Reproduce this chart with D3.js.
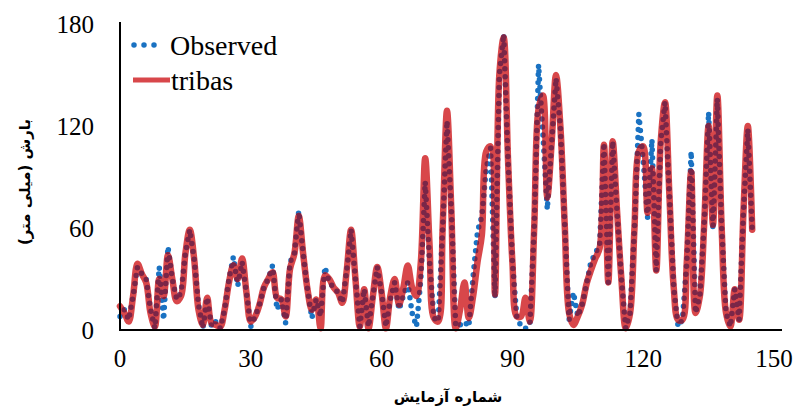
<!DOCTYPE html>
<html><head><meta charset="utf-8">
<script src="https://cdn.jsdelivr.net/npm/d3@7"></script>
<style>body{margin:0;background:#fff}</style>
</head><body>
<svg id="chart" width="804" height="412"></svg>
<script>
const xTicks = [0, 30, 60, 90, 120, 150];
const yTicks = [0, 60, 120, 180];
const seriesNames = ["Observed", "tribas"];
const xTitle = "شماره آزمایش";
const yTitle = "بارش (میلی متر)";
const observed = [8,12,6,20,37,33,30,12,1,37,6,49,30,18,22,45,59,42,15,1,19,2,5,1,12,30,43,26,40,22,
  2,8,15,25,30,38,12,18,4,40,45,70,45,24,7,18,8,37,28,25,22,16,35,59,30,2,24,2,20,37,
  22,2,18,28,12,20,28,10,2,30,87,40,7,5,60,123,70,2,3,5,2,32,58,67,95,107,19,150,174,100,
  40,8,2,1,3,60,156,115,71,110,148,120,62,6,22,8,15,27,40,45,50,110,28,111,70,30,1,10,60,127,
  100,66,112,35,110,134,80,25,2,6,40,105,10,20,63,128,59,136,60,10,2,24,6,70,118,59];
const tribas = [14,10,5,20,39,33,28,10,2,30,20,44,30,17,20,45,59,42,12,3,19,4,3,2,12,28,38,30,42,22,
  5,8,15,25,30,34,19,18,8,36,45,67,45,24,12,18,1,32,30,25,22,16,35,59,30,2,24,1,20,37,
  22,1,20,30,15,25,38,25,20,40,101,50,7,5,60,129,70,1,12,28,7,20,40,56,105,108,21,150,172,100,
  40,8,8,19,5,60,130,138,78,110,150,120,62,10,3,8,15,27,35,42,48,109,28,111,70,30,1,10,60,105,
  108,69,95,35,110,134,80,25,6,6,40,93,10,20,63,120,62,138,60,10,2,24,6,70,120,59];

const W = 804, H = 412;
const svg = d3.select("#chart");
svg.append("rect").attr("width", W).attr("height", H).attr("fill", "#fff");

const x = d3.scaleLinear().domain([0, 150]).range([120, 774]);
const y = d3.scaleLinear().domain([0, 180]).range([330, 24]);

const obsData = observed.map((v, i) => [i, v]);
const triData = tribas.map((v, i) => [i, v]);

const lineObs = d3.line().x(d => x(d[0])).y(d => y(d[1]));
const lineTri = d3.line().x(d => x(d[0])).y(d => y(d[1])).curve(d3.curveCatmullRom.alpha(0.5));

const serif = "'Liberation Serif','Times New Roman',serif";

const defs = svg.append("defs");
defs.append("mask").attr("id", "redMask").attr("maskUnits", "userSpaceOnUse")
  .attr("x", 0).attr("y", 0).attr("width", W).attr("height", H)
  .append("path").attr("d", lineTri(triData))
  .attr("fill", "none").attr("stroke", "#fff").attr("stroke-width", 6.5)
  .attr("stroke-linejoin", "round").attr("stroke-linecap", "round");

svg.append("path").attr("d", lineObs(obsData))
  .attr("fill", "none").attr("stroke", "#1a72c2").attr("stroke-width", 5.5)
  .attr("stroke-linecap", "round").attr("stroke-dasharray", "0 8");

svg.append("path").attr("d", lineTri(triData))
  .attr("fill", "none").attr("stroke", "#d8474a").attr("stroke-width", 6.5)
  .attr("stroke-linejoin", "round").attr("stroke-linecap", "round");

svg.append("path").attr("d", lineObs(obsData)).attr("mask", "url(#redMask)")
  .attr("fill", "none").attr("stroke", "#7a2648").attr("stroke-width", 5.5)
  .attr("stroke-linecap", "round").attr("stroke-dasharray", "0 8");

svg.append("line").attr("x1", 120).attr("x2", 120).attr("y1", 22).attr("y2", 331)
  .attr("stroke", "#000").attr("stroke-width", 2);
svg.append("line").attr("x1", 119).attr("x2", 782).attr("y1", 330).attr("y2", 330)
  .attr("stroke", "#000").attr("stroke-width", 2);

svg.selectAll(".yt").data(yTicks).enter().append("text")
  .attr("x", 94).attr("y", d => y(d)).attr("dy", "0.35em")
  .attr("text-anchor", "end").attr("font-family", serif).attr("font-size", 25)
  .attr("fill", "#000").text(d => d);
svg.selectAll(".xt").data(xTicks).enter().append("text")
  .attr("x", d => x(d)).attr("y", 367)
  .attr("text-anchor", "middle").attr("font-family", serif).attr("font-size", 25)
  .attr("fill", "#000").text(d => d);

svg.append("text").attr("x", 448).attr("y", 402).attr("text-anchor", "middle")
  .attr("font-family", "'DejaVu Sans','Noto Sans',sans-serif").attr("font-weight", "bold")
  .attr("font-size", 15).attr("direction", "rtl").attr("fill", "#000").text(xTitle);
svg.append("text").attr("transform", "translate(30,182) rotate(-90)").attr("text-anchor", "middle")
  .attr("font-family", "'DejaVu Sans','Noto Sans',sans-serif").attr("font-weight", "bold")
  .attr("font-size", 15).attr("direction", "rtl").attr("fill", "#000").text(yTitle);

const lg = svg.append("g");
lg.append("line").attr("x1", 134).attr("x2", 164).attr("y1", 45).attr("y2", 45)
  .attr("stroke", "#1a72c2").attr("stroke-width", 5.5).attr("stroke-linecap", "round")
  .attr("stroke-dasharray", "0 10");
lg.append("line").attr("x1", 133).attr("x2", 170).attr("y1", 80).attr("y2", 80)
  .attr("stroke", "#d8474a").attr("stroke-width", 5);
lg.append("text").attr("x", 170).attr("y", 45).attr("dy", "0.35em")
  .attr("font-family", serif).attr("font-size", 28).attr("fill", "#000").text(seriesNames[0]);
lg.append("text").attr("x", 171).attr("y", 80).attr("dy", "0.35em")
  .attr("font-family", serif).attr("font-size", 28).attr("fill", "#000").text(seriesNames[1]);
</script>
</body></html>
